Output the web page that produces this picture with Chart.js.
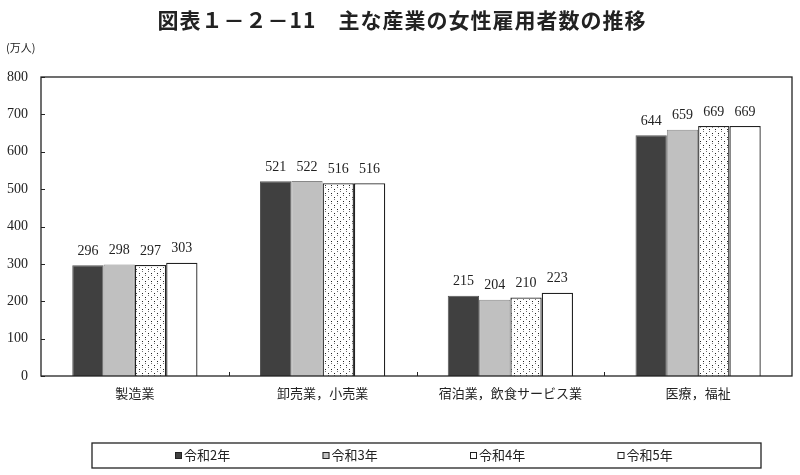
<!DOCTYPE html>
<html>
<head>
<meta charset="utf-8">
<script src="https://cdn.jsdelivr.net/npm/chart.js@4.4.1/dist/chart.umd.min.js"></script>
<style>
html,body{margin:0;padding:0;background:#fff;}
#wrap{width:800px;height:475px;position:relative;}
</style>
</head>
<body>
<div id="wrap"><canvas id="c" width="800" height="475"></canvas></div>
<script>
const title = "図表１－２－11　主な産業の女性雇用者数の推移";
const unitLabel = "(万人)";
const categories = ["製造業", "卸売業，小売業", "宿泊業，飲食サービス業", "医療，福祉"];
const seriesNames = ["令和2年", "令和3年", "令和4年", "令和5年"];
const r2 = [296, 521, 215, 644];
const r3 = [298, 522, 204, 659];
const r4 = [297, 516, 210, 669];
const r5 = [303, 516, 223, 669];
const yTicks = [0, 100, 200, 300, 400, 500, 600, 700, 800];

function dotPattern() {
  const c = document.createElement('canvas');
  c.width = 6; c.height = 8;
  const g = c.getContext('2d');
  g.fillStyle = '#fff';
  g.fillRect(0, 0, 6, 8);
  g.fillStyle = '#222';
  g.fillRect(1, 1, 1, 1);
  g.fillRect(4, 5, 1, 1);
  g.fillStyle = '#777';
  g.fillRect(1, 3, 1, 1);
  g.fillRect(4, 7, 1, 1);
  return g.createPattern(c, 'repeat');
}
const pat = dotPattern();

const SERIF = "'Liberation Serif', 'DejaVu Serif', serif";
const GOTHIC = "'Noto Sans CJK JP', 'Noto Sans', sans-serif";

const frame = {
  id: 'frame',
  afterDraw(chart) {
    const ctx = chart.ctx;
    const a = chart.chartArea;
    const y = chart.scales.y;
    const x = chart.scales.x;
    ctx.save();
    // title
    ctx.fillStyle = '#222';
    ctx.font = "bold 21px " + GOTHIC;
    ctx.letterSpacing = '1px';
    ctx.textAlign = 'center';
    ctx.textBaseline = 'middle';
    ctx.fillText(title, 402, 20);
    ctx.letterSpacing = '0px';
    // unit
    ctx.font = "11px " + GOTHIC;
    ctx.textAlign = 'left';
    ctx.fillText(unitLabel, 6, 48);
    // plot box
    ctx.strokeStyle = '#222';
    ctx.lineWidth = 1.3;
    ctx.strokeRect(a.left, a.top, a.right - a.left, a.bottom - a.top);
    ctx.lineWidth = 1;
    // y ticks inside
    yTicks.forEach(v => {
      const py = Math.round(y.getPixelForValue(v)) + 0.5;
      ctx.beginPath();
      ctx.moveTo(a.left, py);
      ctx.lineTo(a.left + 4, py);
      ctx.stroke();
    });
    // x category separators
    for (let i = 1; i < categories.length; i++) {
      const px = Math.round((x.getPixelForValue(i - 1) + x.getPixelForValue(i)) / 2) + 0.5;
      ctx.beginPath();
      ctx.moveTo(px, a.bottom);
      ctx.lineTo(px, a.bottom - 4);
      ctx.stroke();
    }
    // data labels
    ctx.fillStyle = '#222';
    ctx.font = "14px " + SERIF;
    ctx.textAlign = 'center';
    ctx.textBaseline = 'bottom';
    chart.data.datasets.forEach((ds, di) => {
      const meta = chart.getDatasetMeta(di);
      meta.data.forEach((bar, i) => {
        ctx.fillText(String(ds.data[i]), bar.x, bar.y - 7);
      });
    });
    // legend
    const lx = 92, ly = 443, lw = 669, lh = 25;
    ctx.strokeStyle = '#222';
    ctx.lineWidth = 1.3;
    ctx.strokeRect(lx, ly, lw, lh);
    ctx.lineWidth = 1;
    ctx.font = "13px " + GOTHIC;
    ctx.textAlign = 'left';
    ctx.textBaseline = 'middle';
    chart.data.datasets.forEach((ds, di) => {
      const sx = 175 + di * 147.5;
      const cy = ly + lh / 2;
      ctx.fillStyle = ds.legendFill;
      ctx.fillRect(sx, cy - 3.5, 7, 7);
      ctx.strokeStyle = '#222';
      ctx.strokeRect(sx + 0.5, cy - 3, 6, 6);
      ctx.fillStyle = '#222';
      ctx.fillText(ds.label, sx + 9, cy);
    });
    ctx.restore();
  }
};

new Chart(document.getElementById('c'), {
  type: 'bar',
  data: {
    labels: categories,
    datasets: [
      { label: seriesNames[0], data: r2, backgroundColor: '#404040', borderColor: '#555', borderWidth: 1, legendFill: '#404040' },
      { label: seriesNames[1], data: r3, backgroundColor: '#c0c0c0', borderColor: '#888', borderWidth: 1, legendFill: '#c0c0c0' },
      { label: seriesNames[2], data: r4, backgroundColor: pat, borderColor: '#222', borderWidth: 1.3, legendFill: '#fff' },
      { label: seriesNames[3], data: r5, backgroundColor: '#ffffff', borderColor: '#222', borderWidth: 1.3, legendFill: '#fff' }
    ]
  },
  options: {
    responsive: false,
    animation: false,
    layout: { padding: { top: 77, right: 8, bottom: 0, left: 0 } },
    datasets: { bar: { barPercentage: 1.0, categoryPercentage: 0.667 } },
    plugins: { legend: { display: false }, tooltip: { enabled: false }, title: { display: false } },
    scales: {
      x: {
        grid: { display: false, drawTicks: false },
        border: { display: false },
        ticks: { padding: 9, color: '#222', font: { family: GOTHIC, size: 13 } },
        afterFit(s) { s.height = 99; }
      },
      y: {
        min: 0, max: 800,
        grid: { display: false, drawTicks: false },
        border: { display: false },
        afterBuildTicks(s) { s.ticks = yTicks.map(v => ({ value: v })); },
        ticks: { padding: 13, color: '#222', font: { family: SERIF, size: 14 } },
        afterFit(s) { s.width = 41; }
      }
    }
  },
  plugins: [frame]
});
</script>
</body>
</html>
